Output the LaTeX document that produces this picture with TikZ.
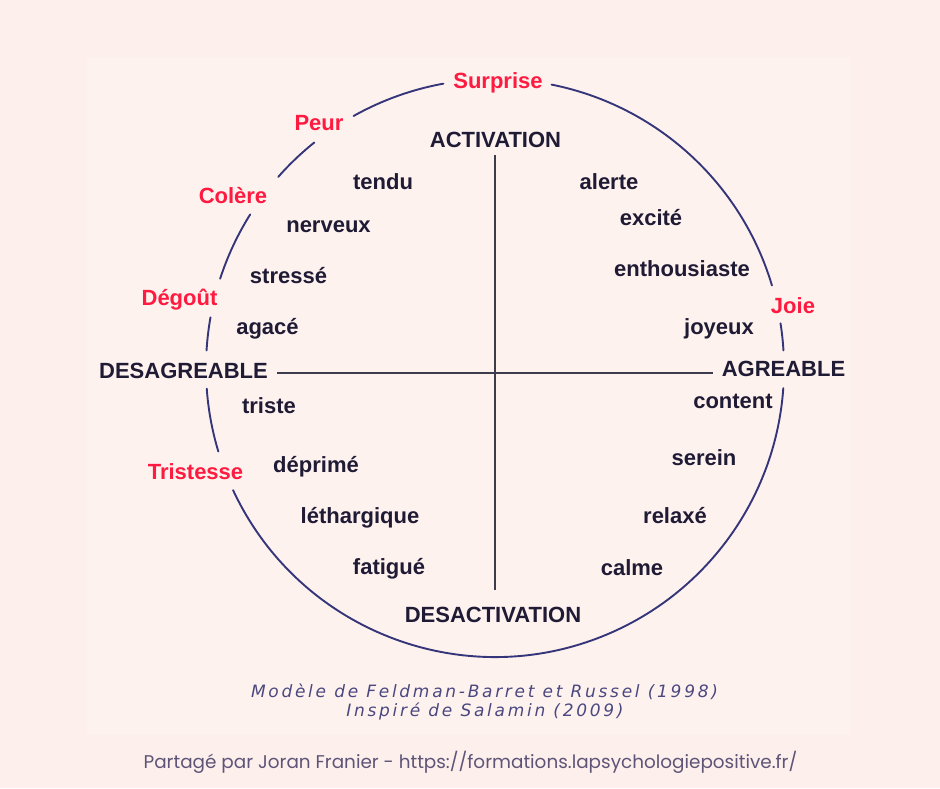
\documentclass[tikz,border=0pt]{standalone}
\usepackage{fontspec}
\setmainfont{Liberation Sans}
\newfontfamily\capfont[LetterSpace=16]{DejaVu Sans}
\newfontfamily\footfont{Poppins}
\definecolor{bg}{HTML}{FDEFEB}
\definecolor{inner}{HTML}{FEF2EF}
\definecolor{txt}{HTML}{201B35}
\definecolor{emo}{HTML}{FF1A40}
\definecolor{circ}{HTML}{35357A}
\definecolor{axisc}{HTML}{3C3C4C}
\definecolor{capc}{HTML}{4B4880}
\definecolor{footc}{HTML}{5E5478}
\begin{document}
\begin{tikzpicture}[x=1pt,y=1pt,
  word/.style={anchor=base,inner sep=0pt,text=txt,font=\fontsize{22}{26}\selectfont\bfseries},
  emotion/.style={word,text=emo},
  ring/.style={draw=circ,line width=1.9pt,line cap=round},
  axisline/.style={draw=axisc,line width=1.6pt},
  captext/.style={anchor=base,inner sep=0pt,text=capc,font=\capfont\itshape\fontsize{17}{20}\selectfont},
  foottext/.style={anchor=base,inner sep=0pt,text=footc,font=\footfont\fontsize{18.4}{22}\selectfont}]
\useasboundingbox (0,0) rectangle (940,-788);
\fill[bg] (0,0) rectangle (940,-788);
\fill[inner] (87,-57) rectangle (851,-735);

\coordinate (C) at (495,-368);
% circle arcs
\foreach \a/\b in {100.3/119.3, 128.7/138.6, 147.9/162, 169.9/176.5, 184.1/196.8, 205/356, 3.5/8.9, 16.6/78.7}{
  \draw[ring] ([shift={(\a:289)}]C) arc[start angle=\a, end angle=\b, radius=289];
}

% axes
\node[word] (act) at (495.5,-147) {ACTIVATION};
\node[word] (desact) at (493,-622) {DESACTIVATION};
\node[word] (desag) at (183.5,-378) {DESAGREABLE};
\node[word] (ag) at (783.5,-376) {AGREABLE};
\coordinate (vtop) at (495,-155);
\coordinate (vbot) at (495,-590);
\coordinate (hl) at (277,-373);
\coordinate (hr) at (713,-373);
\draw[axisline] (vtop) -- (vbot);
\draw[axisline] (hl) -- (hr);

% emotions
\node[emotion] (surprise) at (498,-88) {Surprise};
\node[emotion] (peur) at (319,-130) {Peur};
\node[emotion] (colere) at (233,-203) {Colère};
\node[emotion] (degout) at (179.5,-305) {Dégoût};
\node[emotion] (tristesse) at (195.5,-479) {Tristesse};
\node[emotion] (joie) at (793,-313) {Joie};

% words
\node[word] (tendu) at (383,-189) {tendu};
\node[word] (nerveux) at (328.5,-232) {nerveux};
\node[word] (stresse) at (288.5,-283) {stressé};
\node[word] (agace) at (267.5,-334) {agacé};
\node[word] (triste) at (269,-413) {triste};
\node[word] (deprime) at (316,-472) {déprimé};
\node[word] (lethargique) at (360,-523) {léthargique};
\node[word] (fatigue) at (389,-574) {fatigué};
\node[word] (alerte) at (609,-189) {alerte};
\node[word] (excite) at (651,-225) {excité};
\node[word] (enthousiaste) at (682,-276) {enthousiaste};
\node[word] (joyeux) at (719,-334) {joyeux};
\node[word] (content) at (733,-408) {content};
\node[word] (serein) at (704,-465) {serein};
\node[word] (relaxe) at (675,-523) {relaxé};
\node[word] (calme) at (632,-575) {calme};

% captions
\node[captext] (cap1) at (484.5,-697) {Modèle de Feldman-Barret et Russel (1998)};
\node[captext] (cap2) at (485,-716) {Inspiré de Salamin (2009)};
\node[foottext] (foot) at (470.5,-768) {Partagé par Joran Franier - https://formations.lapsychologiepositive.fr/};
\end{tikzpicture}
\end{document}
